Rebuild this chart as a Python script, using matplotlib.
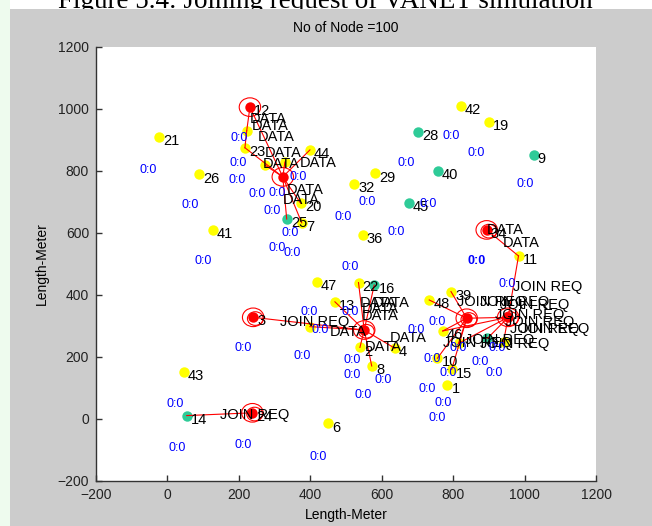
import numpy as np
import matplotlib.pyplot as plt
from matplotlib.patches import Rectangle, Circle

plt.rcParams['font.family'] = ['Liberation Sans', 'DejaVu Sans']

# node positions (metres)
head_ids = ['12', '27', '3', '24', '30', '34', '38', '18']
head_x = [231, 323, 240, 238, 551, 894, 838, 954]
head_y = [1006, 781, 328, 20, 287, 610, 325, 328]
head_label = ['12', '', '3', '24', '', '34', '', '']

teal_ids = ['28', '40', '9', '45', '25', '16', '14', '17']
teal_x = [701, 757, 1025, 675, 334, 579, 54, 896]
teal_y = [925, 801, 851, 696, 645, 432, 11, 260]
teal_label = ['28', '40', '9', '45', '25', '16', '14', '']

yel_ids = ['21', '26', '41', '44', '23', '5', '33', '31', '20', '7', '42', '19',
           '29', '32', '36', '11', '47', '13', '22', '35', '2', '8', '4', '43',
           '6', '39', '48', '46', '10', '15', '1', '37', '49']
yel_x = [-23, 89, 127, 399, 217, 222, 273, 329, 373, 376, 821, 899,
         582, 522, 547, 983, 418, 469, 535, 399, 539, 572, 637, 45,
         449, 794, 733, 771, 756, 796, 784, 815, 941]
yel_y = [909, 789, 610, 868, 875, 930, 819, 829, 696, 633, 1011, 957,
         792, 757, 594, 526, 443, 378, 440, 298, 231, 171, 228, 153,
         -14, 411, 384, 284, 196, 160, 110, 244, 249]
yel_label = ['21', '26', '41', '44', '23', '', '', '', '20', '7', '42', '19',
             '29', '32', '36', '11', '47', '13', '22', '', '2', '8', '4', '43',
             '6', '39', '48', '46', '10', '15', '1', '', '']

# links between nodes
links = [('12', '5'), ('5', '23'), ('23', '27'), ('12', '27'), ('27', '44'),
         ('27', '25'), ('27', '7'), ('27', '33'), ('27', '20'), ('27', '31'),
         ('3', '30'), ('30', '35'), ('30', '22'), ('30', '16'), ('30', '13'),
         ('30', '2'), ('30', '8'), ('30', '4'), ('24', '14'),
         ('34', '11'), ('11', '18'), ('38', '39'), ('38', '48'), ('38', '46'),
         ('38', '10'), ('38', '15'), ('38', '37'), ('38', '18'), ('18', '49'),
         ('18', '17'), ('18', '46'), ('18', '37')]

# heads that show a second (inner) ring
double_ring = ['3', '24', '30', '34', '38', '18']

# packet texts
data_x = [231, 237, 254, 273, 268, 371, 335, 324,
          455, 539, 545, 545, 623, 553, 576, 894, 939]
data_y = [968, 945, 910, 858, 823, 826, 739, 706,
          281, 374, 355, 332, 261, 232, 374, 610, 568]
join_x = [315, 147, 967, 811, 875, 931, 917, 945, 959, 987, 772, 833, 875]
join_y = [313, 13, 426, 377, 377, 368, 335, 313, 290, 290, 245, 255, 242]

# blue timer texts "0:0"
timer_x = [-54, 63, 100, 200, 198, 195, 251, 307, 293, 343, 366, 492,
           794, 864, 668, 559, 730, 1001, 640, 307, 349, 397, 427, 212,
           377, 21, 511, 517, 517, 27, 212, 422, 511, 603, 548, 696,
           951, 755, 923, 741, 786, 875, 914, 727, 771, 755, 815]
timer_y = [803, 690, 510, 906, 826, 771, 726, 729, 671, 600, 781, 652,
           913, 858, 826, 700, 694, 758, 603, 552, 536, 345, 287, 229,
           203, 48, 490, 190, 142, -94, -84, -123, 345, 126, 77, 287,
           436, 313, 229, 194, 148, 184, 148, 97, 52, 3, 229]
bold_timer = (867, 510)

pos = {}
for ids, xs, ys in [(head_ids, head_x, head_y), (teal_ids, teal_x, teal_y),
                    (yel_ids, yel_x, yel_y)]:
    for i, x, y in zip(ids, xs, ys):
        pos[i] = (x, y)

fig = plt.figure(figsize=(6.52, 5.26), dpi=100, facecolor='white')
fig.patches.append(Rectangle((10 / 652, 0), 1, 1 - 9 / 526, transform=fig.transFigure,
                             facecolor='#cccccc', edgecolor='none', zorder=-1))
fig.patches.append(Rectangle((0, 0), 10 / 652, 1, transform=fig.transFigure,
                             facecolor='#eefbee', edgecolor='none', zorder=-1))
fig.text(325 / 652, 1 - 8.5 / 526, 'Figure 5.4: Joining request of VANET simulation',
         family=['Liberation Serif', 'DejaVu Serif'], fontsize=19.5,
         ha='center', va='baseline', zorder=-2)

ax = fig.add_axes([96 / 652, 45 / 526, 500 / 652, 434 / 526])
ax.set_xlim(-200, 1200)
ax.set_ylim(-200, 1200)
ax.set_xticks(np.arange(-200, 1201, 200))
ax.set_yticks(np.arange(-200, 1201, 200))
for s in ['top', 'right']:
    ax.spines[s].set_visible(False)
for s in ['left', 'bottom']:
    ax.spines[s].set_color('#333333')
    ax.spines[s].set_linewidth(1)
ax.tick_params(direction='in', length=4, width=1, color='#333333',
               labelsize=10, labelcolor='#222222', pad=5)

for a, b in links:
    ax.plot([pos[a][0], pos[b][0]], [pos[a][1], pos[b][1]], color='red', lw=0.8, zorder=3)

ax.plot(yel_x, yel_y, 'o', color='#ffff00', ms=7.5, mec='none', zorder=2)
ax.plot(teal_x, teal_y, 'o', color='#2fcb98', ms=7.5, mec='none', zorder=2)
ax.plot(head_x, head_y, 'o', color='#ff0000', ms=7.5, mec='none', zorder=2)
for h, x, y in zip(head_ids, head_x, head_y):
    ax.add_patch(Circle((x, y), 30, fill=False, ec='red', lw=0.8, zorder=3))
    if h in double_ring:
        ax.add_patch(Circle((x + 6, y - 4), 22, fill=False, ec='red', lw=0.8, zorder=3))

for labels, xs, ys in [(head_label, head_x, head_y), (teal_label, teal_x, teal_y),
                       (yel_label, yel_x, yel_y)]:
    for t, x, y in zip(labels, xs, ys):
        if t:
            ax.annotate(t, (x, y), xytext=(3, -3), textcoords='offset points',
                        fontsize=10.5, ha='left', va='center', zorder=4)

for x, y in zip(data_x, data_y):
    ax.text(x, y, 'DATA', fontsize=10.5, ha='left', va='center', zorder=4)
for x, y in zip(join_x, join_y):
    ax.text(x, y, 'JOIN REQ', fontsize=10.5, ha='left', va='center', zorder=4)
for x, y in zip(timer_x, timer_y):
    ax.text(x, y, '0:0', fontsize=9, color='#0000ff', ha='center', va='center', zorder=4)
ax.text(bold_timer[0], bold_timer[1], '0:0', fontsize=9, color='#0000ff',
        fontweight='bold', ha='center', va='center', zorder=4)

ax.set_title('No of Node =100', fontsize=10, pad=11)
ax.set_xlabel('Length-Meter', fontsize=10)
ax.set_ylabel('Length-Meter', fontsize=10)
ax.xaxis.set_label_coords(0.5, -0.062)
ax.yaxis.set_label_coords(-0.095, 0.5)

fig.savefig('out.png', dpi=100, facecolor=fig.get_facecolor())
